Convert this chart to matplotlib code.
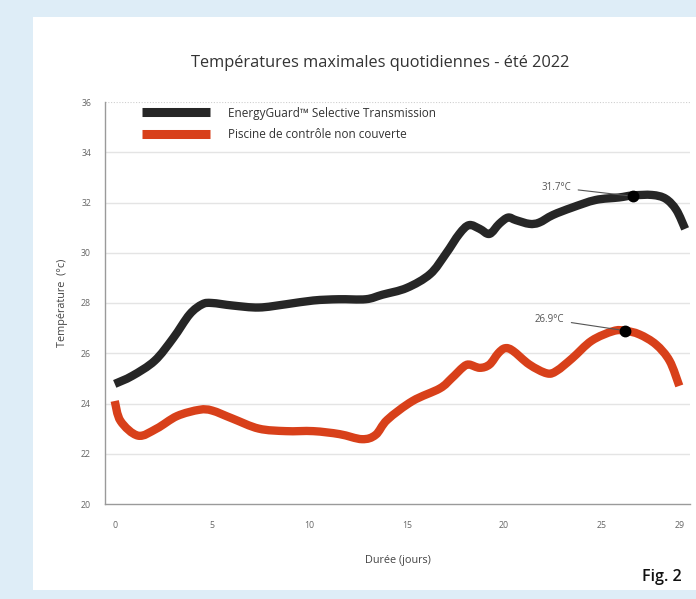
import matplotlib
matplotlib.use("Agg")
import matplotlib.pyplot as plt
from matplotlib.patches import Rectangle, PathPatch
from matplotlib.path import Path
from matplotlib.lines import Line2D

plt.rcParams['font.family'] = ['Open Sans', 'DejaVu Sans']

days_black = [0, 0.9, 2.05, 3.0, 3.85, 4.5, 5.0, 6.05, 7.4, 8.8, 10.2, 11.5, 12.9, 13.75, 15.0, 16.2, 17.0, 17.7, 18.2, 18.75, 19.25, 19.75, 20.2, 20.6, 21.3, 21.8, 22.5, 23.5, 24.7, 25.9, 26.6, 27.6, 28.3, 28.85, 29.3]
temp_black = [24.78, 25.1, 25.7, 26.6, 27.55, 27.95, 28.0, 27.9, 27.82, 27.95, 28.1, 28.15, 28.15, 28.33, 28.6, 29.15, 29.95, 30.75, 31.1, 30.95, 30.75, 31.15, 31.4, 31.3, 31.15, 31.2, 31.5, 31.8, 32.1, 32.2, 32.28, 32.3, 32.15, 31.7, 30.95]

days_red = [0, 0.3, 1.2, 2.15, 3.2, 4.35, 5.0, 6.05, 7.4, 8.8, 10.2, 11.55, 12.7, 13.4, 14.0, 15.3, 16.7, 17.3, 17.9, 18.2, 18.75, 19.25, 19.7, 20.05, 20.45, 21.3, 22.2, 22.7, 23.5, 24.5, 25.6, 26.2, 26.95, 27.8, 28.5, 29.0]
temp_red = [24.1, 23.3, 22.72, 23.0, 23.5, 23.75, 23.72, 23.4, 23.0, 22.9, 22.9, 22.78, 22.58, 22.75, 23.35, 24.1, 24.6, 25.0, 25.45, 25.55, 25.42, 25.55, 26.0, 26.2, 26.1, 25.55, 25.2, 25.3, 25.8, 26.5, 26.88, 26.9, 26.75, 26.35, 25.7, 24.7]

peaks = [(26.6, 32.25, "31.7°C", 23.45, 32.6), (26.2, 26.9, "26.9°C", 23.1, 27.35)]

labels = ["EnergyGuard™ Selective Transmission", "Piscine de contrôle non couverte"]
x_ticks = [0, 5, 10, 15, 20, 25, 29]
y_ticks = [20, 22, 24, 26, 28, 30, 32, 34, 36]

BLACK = '#262626'
RED = '#d8401a'


def smooth_path(xs, ys):
    pts = list(zip(xs, ys))
    verts = [pts[0]]
    codes = [Path.MOVETO]
    n = len(pts)
    for i in range(n - 1):
        p0 = pts[i - 1] if i > 0 else pts[i]
        p1 = pts[i]
        p2 = pts[i + 1]
        p3 = pts[i + 2] if i + 2 < n else pts[i + 1]
        c1 = (p1[0] + (p2[0] - p0[0]) / 6, p1[1] + (p2[1] - p0[1]) / 6)
        c2 = (p2[0] - (p3[0] - p1[0]) / 6, p2[1] - (p3[1] - p1[1]) / 6)
        verts += [c1, c2, p2]
        codes += [Path.CURVE4] * 3
    return Path(verts, codes)


fig = plt.figure(figsize=(6.96, 5.99), dpi=100)
fig.patch.set_facecolor('#deedf7')
bg = Rectangle((33/696, 1-590/599), 1-33/696, (590-17)/599,
               transform=fig.transFigure, facecolor='white',
               edgecolor='none', zorder=-10)
fig.add_artist(bg)

ax = fig.add_axes([105/696, 1-504/599, (690-105)/696, (504-102)/599])
ax.set_zorder(2)
ax.set_facecolor('white')
ax.set_xlim(-0.5, 29.55)
ax.set_ylim(20, 36)

for yv in y_ticks[1:-1]:
    ax.axhline(yv, color='#e4e4e4', lw=1.0, zorder=1)
ax.axhline(36, color='#cfcfcf', lw=0.8, ls=(0, (1, 1.5)), zorder=1)

for xs, ys, col in [(days_black, temp_black, BLACK), (days_red, temp_red, RED)]:
    ax.add_patch(PathPatch(smooth_path(xs, ys), facecolor='none', edgecolor=col,
                           lw=6, capstyle='butt', joinstyle='round', zorder=3))

for (px, py, txt, tx, ty) in peaks:
    ax.plot([px], [py], 'o', color='black', ms=7.5, zorder=5)
    ax.annotate(txt, xy=(px, py), xytext=(tx, ty), fontsize=7, color='#555555',
                ha='right', va='center',
                arrowprops=dict(arrowstyle='-', color='#555555', lw=0.8, shrinkA=3, shrinkB=0))

h1 = Line2D([], [], color=BLACK, lw=6.5, solid_capstyle='butt')
h2 = Line2D([], [], color=RED, lw=6.5, solid_capstyle='butt')
leg = ax.legend([h1, h2], labels, loc='upper left', bbox_to_anchor=(0.045, 1.015),
                frameon=False, fontsize=8.5, handlelength=5.8, handletextpad=1.45,
                labelspacing=0.7, labelcolor='#333333')

ax.set_xticks(x_ticks)
ax.set_yticks(y_ticks)
ax.tick_params(axis='both', length=0, labelsize=6.3, labelcolor='#666666')
ax.tick_params(axis='x', pad=12)
ax.tick_params(axis='y', pad=10)

for s in ['top', 'right']:
    ax.spines[s].set_visible(False)
for s in ['left', 'bottom']:
    ax.spines[s].set_color('#9a9a9a')
    ax.spines[s].set_linewidth(1.0)

ax.set_xlabel("Durée (jours)", fontsize=7.8, color='#444444', labelpad=18)
ax.set_ylabel("Température  (°c)", fontsize=7.8, color='#444444', labelpad=9)

fig.text(380/696, 1-63/599, "Températures maximales quotidiennes - été 2022",
         ha='center', va='center', fontsize=11.8, color='#333333')
fig.text(682/696, 1-577/599, "Fig. 2", ha='right', va='center', fontsize=11.5,
         color='#111111', fontweight='semibold')

fig.savefig("out.png", dpi=100, facecolor=fig.get_facecolor())
